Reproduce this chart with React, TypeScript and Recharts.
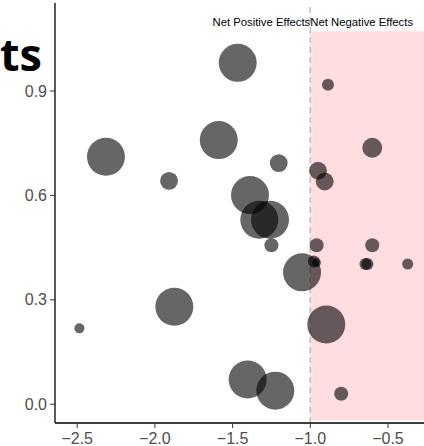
import React from 'react';
import {
  ScatterChart,
  Scatter,
  XAxis,
  YAxis,
  ZAxis,
  ReferenceArea,
  ReferenceLine,
} from 'recharts';

// Effect estimate (x), score (y) and study weight (bubble area) per study
const effectX = [
  -1.467, -2.315, -1.909, -1.589, -1.203, -0.886, -0.601, -0.95, -0.907,
  -1.388, -1.328, -1.259, -1.25, -0.959, -0.601, -0.977, -0.96, -0.645,
  -0.632, -0.373, -1.053, -0.897, -1.875, -2.486, -1.403, -1.225, -0.801,
];
const effectY = [
  0.981, 0.711, 0.642, 0.759, 0.693, 0.918, 0.737, 0.671, 0.64,
  0.601, 0.53, 0.53, 0.457, 0.457, 0.457, 0.41, 0.407, 0.403,
  0.403, 0.403, 0.379, 0.229, 0.28, 0.218, 0.071, 0.039, 0.03,
];
const weight = [
  95, 95, 21, 95, 21, 9.5, 26, 21, 21,
  95, 95, 95, 13, 13, 13, 9.5, 5.3, 9.5,
  9.5, 8, 95, 95, 95, 6.6, 95, 95, 13,
];

const xTicks = [-2.5, -2.0, -1.5, -1.0, -0.5];
const yTicks = [0.0, 0.3, 0.6, 0.9];
const regionLabels = ['Net Positive Effects', 'Net Negative Effects'];
const threshold = -1;
const xDomain: [number, number] = [-2.643, -0.268];
const yDomain: [number, number] = [-0.054, 1.153];
const shadeY: [number, number] = [-0.046, 1.072];
const titleText = 'ts';

const points = effectX.map((x, i) => ({ x, y: effectY[i], w: weight[i] }));
const wMin = Math.min(...weight);
const wMax = Math.max(...weight);
// area per unit of weight, so bubble area stays proportional to weight
const AREA_PER_WEIGHT = (Math.PI * 19.5 * 19.5) / 100;

const fmt = (v: number) =>
  v < 0 ? '\u2212' + Math.abs(v).toFixed(1) : v.toFixed(1);

const tickStyle = {
  fill: '#4d4d4d',
  fontSize: 16,
  fontFamily: '"Liberation Sans", Arial, sans-serif',
};

const RegionLabels = (props: any) => {
  const vb = props.viewBox || {};
  const x = vb.x ?? 0;
  const y = (vb.y ?? 0) + 23;
  const style = {
    fontSize: 11.3,
    fontFamily: '"Liberation Sans", Arial, sans-serif',
    fill: '#000',
  };
  return (
    <g>
      <text x={x} y={y} textAnchor="end" {...style}>
        {regionLabels[0]}
      </text>
      <text x={x} y={y} textAnchor="start" {...style}>
        {regionLabels[1]}
      </text>
    </g>
  );
};

const Bubble = (p: any) => (
  <circle cx={p.cx} cy={p.cy} r={(p.width || 0) / 2} fill="#000" fillOpacity={0.6} />
);

export default function App() {
  return (
    <div style={{ position: 'absolute', left: 0, top: 0, width: 424, height: 446 }}>
      <ScatterChart
        width={424}
        height={446}
        margin={{ top: 3, right: 0, bottom: 0, left: 0 }}
      >
        <XAxis
          type="number"
          dataKey="x"
          domain={xDomain}
          ticks={xTicks}
          allowDataOverflow
          height={23}
          tickSize={5}
          tickMargin={5}
          tickFormatter={fmt}
          tick={tickStyle}
          axisLine={{ stroke: '#000', strokeWidth: 1.3 }}
          tickLine={{ stroke: '#333' }}
          interval={0}
        />
        <YAxis
          type="number"
          dataKey="y"
          domain={yDomain}
          ticks={yTicks}
          allowDataOverflow
          width={55}
          tickSize={5}
          tickMargin={3}
          tickFormatter={fmt}
          tick={tickStyle}
          axisLine={{ stroke: '#000', strokeWidth: 1.3 }}
          tickLine={{ stroke: '#333' }}
          interval={0}
        />
        <ZAxis
          type="number"
          dataKey="w"
          domain={[wMin, wMax]}
          range={[wMin * AREA_PER_WEIGHT, wMax * AREA_PER_WEIGHT]}
        />
        <ReferenceArea
          x1={threshold}
          x2={xDomain[1]}
          y1={shadeY[0]}
          y2={shadeY[1]}
          fill="#ffdde1"
          fillOpacity={1}
          stroke="none"
        />
        <Scatter data={points} shape={Bubble} isAnimationActive={false} />
        <ReferenceLine
          x={threshold}
          stroke="#bdbdbd"
          strokeWidth={1.5}
          strokeDasharray="6 4"
          label={<RegionLabels />}
        />
      </ScatterChart>
      <svg
        width={424}
        height={446}
        style={{ position: 'absolute', left: 0, top: 0, pointerEvents: 'none' }}
      >
        <text
          x={0}
          y={71}
          textAnchor="start"
          fontFamily='"Open Sans", sans-serif'
          fontWeight={700}
          fontSize={45}
          fill="#000"
        >
          {titleText}
        </text>
      </svg>
    </div>
  );
}
